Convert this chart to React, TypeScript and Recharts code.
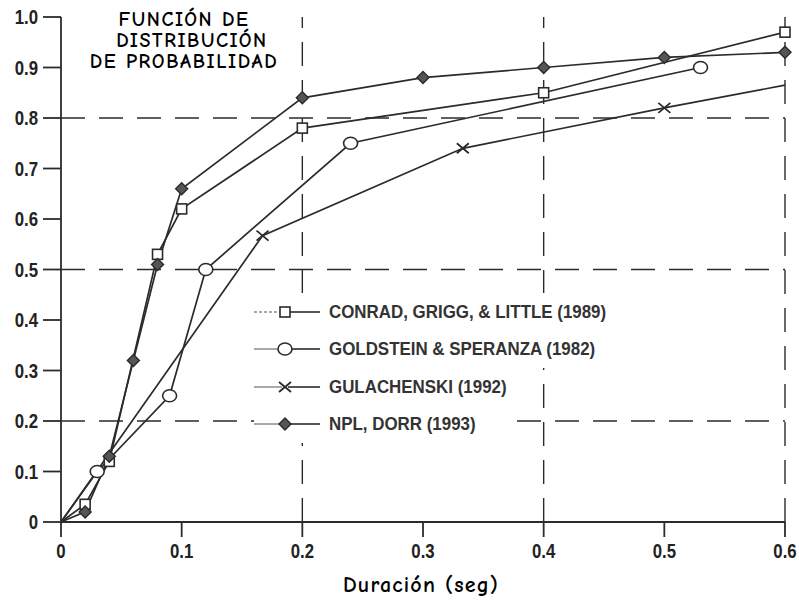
import React from 'react';
import { LineChart, Line, XAxis, YAxis, ReferenceLine, Legend, Label } from 'recharts';

const conradX = [0, 0.02, 0.04, 0.08, 0.1, 0.2, 0.4, 0.6];
const conradY = [0, 0.035, 0.12, 0.53, 0.62, 0.78, 0.85, 0.97];
const goldsteinX = [0, 0.03, 0.09, 0.12, 0.24, 0.53];
const goldsteinY = [0, 0.1, 0.25, 0.5, 0.75, 0.9];
const gulachenskiX = [0, 0.167, 0.333, 0.5, 0.6];
const gulachenskiY = [0, 0.567, 0.74, 0.82, 0.865];
const nplX = [0, 0.02, 0.04, 0.06, 0.08, 0.1, 0.2, 0.3, 0.4, 0.5, 0.6];
const nplY = [0, 0.02, 0.13, 0.32, 0.51, 0.66, 0.84, 0.88, 0.9, 0.92, 0.93];

const xTicks = [0, 0.1, 0.2, 0.3, 0.4, 0.5, 0.6];
const yTicks = [0, 0.1, 0.2, 0.3, 0.4, 0.5, 0.6, 0.7, 0.8, 0.9, 1.0];
const xGrid = [0.2, 0.4, 0.6];
const yGrid = [0.2, 0.5, 0.8];

const seriesNames = [
  'CONRAD, GRIGG, & LITTLE (1989)',
  'GOLDSTEIN & SPERANZA (1982)',
  'GULACHENSKI (1992)',
  'NPL, DORR (1993)',
];
const titleLines = ['FUNCIÓN DE', 'DISTRIBUCIÓN', 'DE PROBABILIDAD'];
const xLabel = 'Duración (seg)';

const toData = (xs: number[], ys: number[]) => xs.map((x, i) => ({ x, y: ys[i] }));

const INK = '#2b2b2b';
const TICK_FONT = "'Liberation Sans', Arial, sans-serif";
const COMIC = "'Comic Sans MS', 'Comic Neue', 'DejaVu Sans', sans-serif";

type Shape = 'square' | 'circle' | 'cross' | 'diamond';

const Marker = ({ shape, cx, cy }: { shape: Shape; cx: number; cy: number }) => {
  if (shape === 'square')
    return <rect x={cx - 5} y={cy - 5} width={10} height={10} fill="#fff" stroke={INK} strokeWidth={1.6} />;
  if (shape === 'circle')
    return <ellipse cx={cx} cy={cy} rx={7} ry={6} fill="#fff" stroke={INK} strokeWidth={1.6} />;
  if (shape === 'cross')
    return (
      <g stroke={INK} strokeWidth={1.8}>
        <line x1={cx - 6} y1={cy - 5} x2={cx + 6} y2={cy + 5} />
        <line x1={cx - 6} y1={cy + 5} x2={cx + 6} y2={cy - 5} />
      </g>
    );
  return (
    <polygon
      points={`${cx},${cy - 6} ${cx + 6},${cy} ${cx},${cy + 6} ${cx - 6},${cy}`}
      fill="#555"
      stroke={INK}
      strokeWidth={1.4}
    />
  );
};

const makeDot = (shape: Shape, skip: number[]) => (props: any) => {
  const { cx, cy, index } = props;
  const key = `${shape}-${index}`;
  if (skip.includes(index) || cx == null || cy == null) return <g key={key} />;
  return (
    <g key={key}>
      <Marker shape={shape} cx={cx} cy={cy} />
    </g>
  );
};

const shapes: Shape[] = ['square', 'circle', 'cross', 'diamond'];

const NarrowTick = (props: any) => {
  const { x, y, payload, textAnchor, formatter, dyEm } = props;
  const label = formatter(payload.value);
  return (
    <g transform={`translate(${x},${y}) scale(0.84,1)`}>
      <text
        x={0}
        y={0}
        dy={dyEm}
        textAnchor={textAnchor}
        fill="#222"
        fontFamily={TICK_FONT}
        fontWeight="bold"
        fontSize={20}
      >
        {label}
      </text>
    </g>
  );
};

const fmtX = (v: number) => (v === 0 ? '0' : String(v));
const fmtY = (v: number) => (v === 0 ? '0' : v.toFixed(1));

const AxisTitle = (props: any) => {
  const vb = props.viewBox || {};
  const cx = (vb.x ?? 0) + (vb.width ?? 0) / 2;
  const by = (vb.y ?? 0) + (vb.height ?? 0);
  return (
    <text
      x={cx - 2}
      y={by + 18}
      textAnchor="middle"
      fill="#000"
      fontFamily={COMIC}
      fontWeight="bold"
      fontSize={22}
      letterSpacing={1.2}
    >
      {xLabel}
    </text>
  );
};

const LegendContent = () => (
  <div style={{ display: 'flex', flexDirection: 'column', alignItems: 'flex-start' }}>
    {seriesNames.map((name, i) => (
      <div
        key={name}
        style={{ display: 'flex', alignItems: 'center', height: 37.5, background: '#fff', paddingRight: 10 }}
      >
        <svg width={66} height={18} style={{ display: 'block' }}>
          <line x1={0} y1={9} x2={28} y2={9} stroke="#555" strokeWidth={1} strokeDasharray={i === 0 ? '3 2' : undefined} />
          <line x1={34} y1={9} x2={66} y2={9} stroke={INK} strokeWidth={1.6} />
          <Marker shape={shapes[i]} cx={31} cy={9} />
        </svg>
        <span
          style={{
            marginLeft: 9,
            display: 'inline-block',
            fontFamily: TICK_FONT,
            fontWeight: 'bold',
            fontSize: 19,
            color: '#333',
            whiteSpace: 'nowrap',
            transform: 'scaleX(0.89)',
            transformOrigin: 'left center',
          }}
        >
          {name}
        </span>
      </div>
    ))}
  </div>
);

export default function App() {
  const all = [
    toData(conradX, conradY),
    toData(goldsteinX, goldsteinY),
    toData(gulachenskiX, gulachenskiY),
    toData(nplX, nplY),
  ];
  const skips = [[0], [0], [0, gulachenskiX.length - 1], [0]];
  return (
    <div style={{ position: 'absolute', left: 0, top: 0, width: 799, height: 602, background: '#fff' }}>
      <LineChart width={799} height={602} margin={{ top: 17, right: 14, bottom: 28, left: 0 }}>
        <XAxis
          type="number"
          dataKey="x"
          domain={[0, 0.6]}
          ticks={xTicks}
          allowDuplicatedCategory={false}
          height={52}
          tickSize={15}
          tickMargin={7}
          stroke={INK}
          strokeWidth={1.8}
          tick={<NarrowTick formatter={fmtX} dyEm="0.72em" />}
        >
          <Label position="bottom" content={<AxisTitle />} />
        </XAxis>
        <YAxis
          type="number"
          dataKey="y"
          domain={[0, 1]}
          ticks={yTicks}
          width={61}
          tickSize={18}
          tickMargin={5}
          stroke={INK}
          strokeWidth={1.8}
          tick={<NarrowTick formatter={fmtY} dyEm="0.36em" />}
        />
        {yGrid.map((v) => (
          <ReferenceLine key={`h${v}`} y={v} stroke={INK} strokeWidth={1.4} strokeDasharray="24 14" />
        ))}
        {xGrid.map((v) => (
          <ReferenceLine key={`v${v}`} x={v} stroke={INK} strokeWidth={1.4} strokeDasharray="24 14" />
        ))}
        {all.map((d, i) => (
          <Line
            key={seriesNames[i]}
            data={d}
            dataKey="y"
            name={seriesNames[i]}
            type="linear"
            stroke={INK}
            strokeWidth={1.7}
            dot={makeDot(shapes[i], skips[i])}
            activeDot={false}
            isAnimationActive={false}
          />
        ))}
        <Legend
          layout="vertical"
          align="center"
          verticalAlign="middle"
          content={() => <LegendContent />}
          wrapperStyle={{ position: 'absolute', left: 254, top: 293, width: 'auto', bottom: 'auto', right: 'auto' }}
        />
      </LineChart>
      <div
        style={{
          position: 'absolute',
          left: 74,
          top: 9,
          width: 220,
          textAlign: 'center',
          fontFamily: COMIC,
          fontWeight: 'bold',
          fontSize: 20,
          letterSpacing: 1.6,
          lineHeight: '21px',
          color: '#000',
        }}
      >
        {titleLines.map((t, i) => (
          <div key={t} style={{ paddingLeft: i === 1 ? 16 : 0 }}>
            {t}
          </div>
        ))}
      </div>
    </div>
  );
}
